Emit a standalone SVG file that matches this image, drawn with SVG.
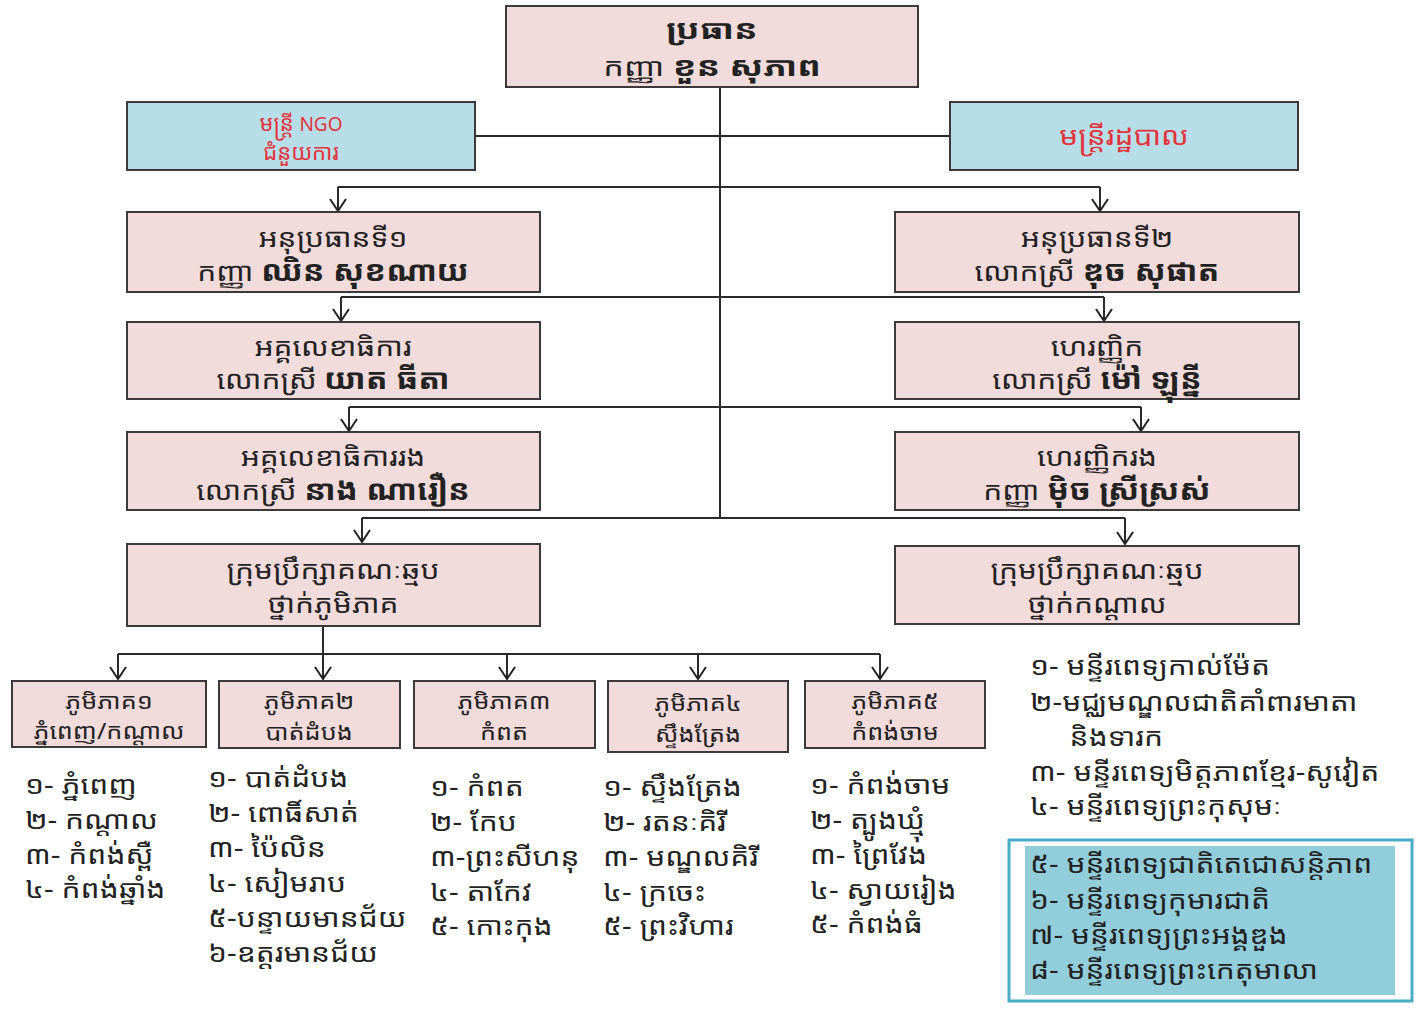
<svg xmlns="http://www.w3.org/2000/svg" width="1421" height="1009" viewBox="0 0 1421 1009">
<style>
text{font-family:"Noto Sans Khmer","Noto Serif Khmer","Khmer OS","Khmer OS System","Hanuman","Noto Sans","DejaVu Sans",sans-serif;fill:#222}
.box{fill:#f2dcdb;stroke:#3a3a3a;stroke-width:2}
.blue{fill:#b7dee8;stroke:#3a3a3a;stroke-width:2}
.t{font-size:26px;text-anchor:middle}
.b{font-weight:bold;font-size:28px}
.red{fill:#e2323c;text-anchor:middle}
.p{font-size:22px;text-anchor:middle}
.l{font-size:25px}
.ln{fill:none;stroke:#2a2a2a;stroke-width:2}
</style>
<defs>
<marker id="arr" markerUnits="userSpaceOnUse" markerWidth="18" markerHeight="18" viewBox="0 0 18 18" refX="16" refY="9" orient="auto">
<path d="M4,1 L16,9 L4,17" fill="none" stroke="#222" stroke-width="2"/>
</marker>
</defs>
<rect width="1421" height="1009" fill="#fff"/>
<g id="connectors">
<path class="ln" d="M720,87 V518"/>
<path class="ln" d="M475,136 H950"/>
<path class="ln" d="M695,136 H731" stroke-width="3"/>
<path class="ln" d="M338,187 H1100"/>
<path class="ln" d="M338,187 V211" marker-end="url(#arr)"/>
<path class="ln" d="M1100,187 V211" marker-end="url(#arr)"/>
<path class="ln" d="M341,297 H1104"/>
<path class="ln" d="M341,297 V321" marker-end="url(#arr)"/>
<path class="ln" d="M1104,297 V321" marker-end="url(#arr)"/>
<path class="ln" d="M349,407 H1141"/>
<path class="ln" d="M349,407 V431" marker-end="url(#arr)"/>
<path class="ln" d="M1141,407 V431" marker-end="url(#arr)"/>
<path class="ln" d="M362,518 H1125"/>
<path class="ln" d="M362,518 V542" marker-end="url(#arr)"/>
<path class="ln" d="M1125,518 V544" marker-end="url(#arr)"/>
<path class="ln" d="M323,626 V679" marker-end="url(#arr)"/>
<path class="ln" d="M118,654 H880"/>
<path class="ln" d="M118,654 V679" marker-end="url(#arr)"/>
<path class="ln" d="M507,654 V679" marker-end="url(#arr)"/>
<path class="ln" d="M698,654 V679" marker-end="url(#arr)"/>
<path class="ln" d="M880,654 V679" marker-end="url(#arr)"/>
</g>
<g id="president">
<rect class="box" x="506" y="6" width="412" height="81"/>
<g transform="translate(712,0) scale(1.3,1)">
<text class="t b" x="0" y="39" style="font-size:27px">ប្រធាន</text>
<text class="t" x="0" y="76" style="font-size:25px">កញ្ញា <tspan class="b" style="font-size:27px">ខួន សុភាព</tspan></text>
</g>
</g>
<g id="ngo">
<rect class="blue" x="127" y="102" width="348" height="68"/>
<text class="red" x="301" y="131" font-size="22">មន្ត្រី <tspan font-size="19">NGO</tspan></text>
<text class="red" x="301" y="160" font-size="22">ជំនួយការ</text>
</g>
<g id="admin">
<rect class="blue" x="950" y="102" width="348" height="68"/>
<text class="red" x="0" y="145" font-size="26" transform="translate(1124,0) scale(1.15,1)">មន្ត្រីរដ្ឋបាល</text>
</g>
<g id="vp1">
<rect class="box" x="127" y="212" width="413" height="80"/>
<g transform="translate(333,0) scale(1.15,1)">
<text class="t" x="0" y="247">អនុប្រធានទី១</text>
<text class="t" x="0" y="281">កញ្ញា <tspan class="b">ឈិន សុខណាយ</tspan></text>
</g>
</g>
<g id="vp2">
<rect class="box" x="895" y="212" width="404" height="80"/>
<g transform="translate(1097,0) scale(1.15,1)">
<text class="t" x="0" y="247">អនុប្រធានទី២</text>
<text class="t" x="0" y="281">លោកស្រី <tspan class="b">ឌុច សុផាត</tspan></text>
</g>
</g>
<g id="secretary">
<rect class="box" x="127" y="322" width="413" height="77"/>
<g transform="translate(333,0) scale(1.15,1)">
<text class="t" x="0" y="356">អគ្គលេខាធិការ</text>
<text class="t" x="0" y="389">លោកស្រី <tspan class="b">យាត ធីតា</tspan></text>
</g>
</g>
<g id="treasurer">
<rect class="box" x="895" y="322" width="404" height="77"/>
<g transform="translate(1097,0) scale(1.15,1)">
<text class="t" x="0" y="356">ហេរញ្ញិក</text>
<text class="t" x="0" y="389">លោកស្រី <tspan class="b">ម៉ៅ ឡុន្នី</tspan></text>
</g>
</g>
<g id="deputy-secretary">
<rect class="box" x="127" y="432" width="413" height="78"/>
<g transform="translate(333,0) scale(1.15,1)">
<text class="t" x="0" y="466">អគ្គលេខាធិការរង</text>
<text class="t" x="0" y="500">លោកស្រី <tspan class="b">នាង ណារឿន</tspan></text>
</g>
</g>
<g id="deputy-treasurer">
<rect class="box" x="895" y="432" width="404" height="78"/>
<g transform="translate(1097,0) scale(1.15,1)">
<text class="t" x="0" y="466">ហេរញ្ញិករង</text>
<text class="t" x="0" y="500">កញ្ញា <tspan class="b">ម៉ិច ស្រីស្រស់</tspan></text>
</g>
</g>
<g id="council-region">
<rect class="box" x="127" y="544" width="413" height="82"/>
<g transform="translate(333,0) scale(1.15,1)">
<text class="t" x="0" y="579">ក្រុមប្រឹក្សាគណៈឆ្មប</text>
<text class="t" x="0" y="613">ថ្នាក់ភូមិភាគ</text>
</g>
</g>
<g id="council-central">
<rect class="box" x="895" y="546" width="404" height="78"/>
<g transform="translate(1097,0) scale(1.15,1)">
<text class="t" x="0" y="579">ក្រុមប្រឹក្សាគណៈឆ្មប</text>
<text class="t" x="0" y="613">ថ្នាក់កណ្តាល</text>
</g>
</g>
<g id="region1">
<rect class="box" x="12" y="681" width="194" height="66"/>
<g transform="translate(109,0) scale(1.15,1)">
<text class="p" x="0" y="709">ភូមិភាគ១</text>
<text class="p" x="0" y="739">ភ្នំពេញ/កណ្តាល</text>
</g>
</g>
<g id="region2">
<rect class="box" x="219" y="681" width="181" height="67"/>
<g transform="translate(309,0) scale(1.15,1)">
<text class="p" x="0" y="709">ភូមិភាគ២</text>
<text class="p" x="0" y="740">បាត់ដំបង</text>
</g>
</g>
<g id="region3">
<rect class="box" x="414" y="681" width="181" height="67"/>
<g transform="translate(504,0) scale(1.15,1)">
<text class="p" x="0" y="709">ភូមិភាគ៣</text>
<text class="p" x="0" y="740">កំពត</text>
</g>
</g>
<g id="region4">
<rect class="box" x="608" y="681" width="180" height="71"/>
<g transform="translate(698,0) scale(1.15,1)">
<text class="p" x="0" y="711">ភូមិភាគ៤</text>
<text class="p" x="0" y="742">ស្ទឹងត្រែង</text>
</g>
</g>
<g id="region5">
<rect class="box" x="805" y="681" width="180" height="67"/>
<g transform="translate(895,0) scale(1.15,1)">
<text class="p" x="0" y="709">ភូមិភាគ៥</text>
<text class="p" x="0" y="740">កំពង់ចាម</text>
</g>
</g>
<g id="list1" transform="translate(25,0) scale(1.2,1)">
<text class="l" x="0" y="794">១- ភ្នំពេញ</text>
<text class="l" x="0" y="829">២- កណ្តាល</text>
<text class="l" x="0" y="864">៣- កំពង់ស្ពឺ</text>
<text class="l" x="0" y="898">៤- កំពង់ឆ្នាំង</text>
</g>
<g id="list2" transform="translate(208,0) scale(1.2,1)">
<text class="l" x="0" y="787">១- បាត់ដំបង</text>
<text class="l" x="0" y="822">២- ពោធិ៍សាត់</text>
<text class="l" x="0" y="857">៣- ប៉ៃលិន</text>
<text class="l" x="0" y="892">៤- សៀមរាប</text>
<text class="l" x="0" y="927">៥-បន្ទាយមានជ័យ</text>
<text class="l" x="0" y="962">៦-ឧត្តរមានជ័យ</text>
</g>
<g id="list3" transform="translate(430,0) scale(1.2,1)">
<text class="l" x="0" y="796">១- កំពត</text>
<text class="l" x="0" y="831">២- កែប</text>
<text class="l" x="0" y="866">៣-ព្រះសីហនុ</text>
<text class="l" x="0" y="901">៤- តាកែវ</text>
<text class="l" x="0" y="935">៥- កោះកុង</text>
</g>
<g id="list4" transform="translate(603,0) scale(1.2,1)">
<text class="l" x="0" y="796">១- ស្ទឹងត្រែង</text>
<text class="l" x="0" y="831">២- រតនៈគិរី</text>
<text class="l" x="0" y="866">៣- មណ្ឌលគិរី</text>
<text class="l" x="0" y="901">៤- ក្រចេះ</text>
<text class="l" x="0" y="935">៥- ព្រះវិហារ</text>
</g>
<g id="list5" transform="translate(810,0) scale(1.2,1)">
<text class="l" x="0" y="794">១- កំពង់ចាម</text>
<text class="l" x="0" y="829">២- ត្បូងឃ្មុំ</text>
<text class="l" x="0" y="864">៣- ព្រៃវែង</text>
<text class="l" x="0" y="899">៤- ស្វាយរៀង</text>
<text class="l" x="0" y="933">៥- កំពង់ធំ</text>
</g>
<g id="central-list" transform="translate(1030,0) scale(1.2,1)">
<text class="l" x="0" y="675">១- មន្ទីរពេទ្យកាល់ម៉ែត</text>
<text class="l" x="0" y="711">២-មជ្ឈមណ្ឌលជាតិគាំពារមាតា</text>
<text class="l" x="33" y="746">និងទារក</text>
<text class="l" x="0" y="781">៣- មន្ទីរពេទ្យមិត្តភាពខ្មែរ-សូវៀត</text>
<text class="l" x="0" y="815">៤- មន្ទីរពេទ្យព្រះកុសុមៈ</text>
</g>
<g id="central-box">
<rect x="1009" y="840" width="403" height="161" fill="#fff" stroke="#4bacc6" stroke-width="3"/>
<rect x="1025" y="846" width="370" height="149" fill="#92cddc"/>
<g transform="translate(1030,0) scale(1.2,1)">
<text class="l" x="0" y="873">៥- មន្ទីរពេទ្យជាតិតេជោសន្តិភាព</text>
<text class="l" x="0" y="909">៦- មន្ទីរពេទ្យកុមារជាតិ</text>
<text class="l" x="0" y="944">៧- មន្ទីរពេទ្យព្រះអង្គឌួង</text>
<text class="l" x="0" y="979">៨- មន្ទីរពេទ្យព្រះកេតុមាលា</text>
</g>
</g>
</svg>
